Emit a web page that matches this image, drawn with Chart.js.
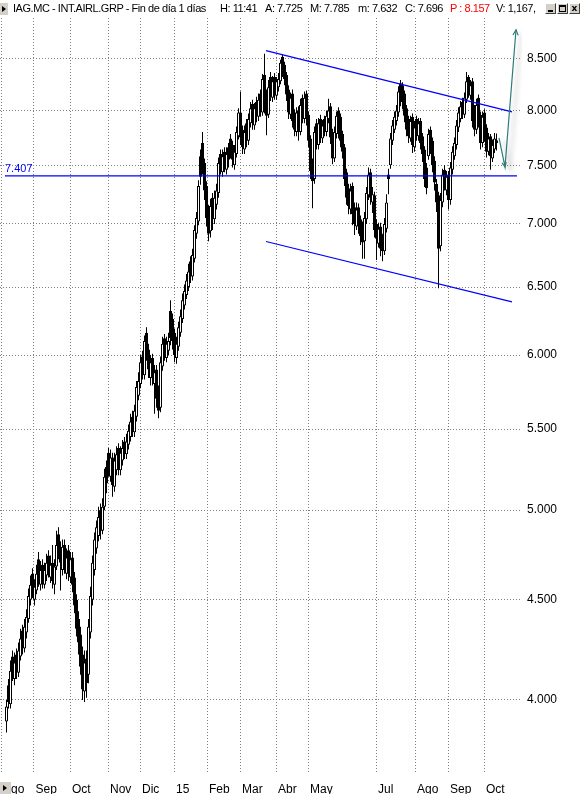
<!DOCTYPE html>
<html>
<head>
<meta charset="utf-8">
<title>IAG.MC - INT.AIRL.GRP</title>
<script src="https://cdn.jsdelivr.net/npm/chart.js@4.4.0/dist/chart.umd.min.js"></script>
<style>
  html, body { margin: 0; padding: 0; background: #fff; }
  #wrap { position: relative; width: 585px; height: 794px; overflow: hidden;
          font-family: "Liberation Sans", Arial, sans-serif; background: #fff; }
  #chart { position: absolute; left: 0; top: 0; }
  .hdr { position: absolute; top: 1px; font-size: 11px; letter-spacing: -0.45px; line-height: 14px;
         white-space: nowrap; color: #000; }
  .red { color: #ff0000; }
  .btn { position: absolute; background: #d4d0c8; box-sizing: border-box; }
  .tri { position: absolute; width: 0; height: 0; border-top: 3px solid transparent;
         border-bottom: 3px solid transparent; border-left: 4px solid #000; }
  .win { position: absolute; top: 3px; width: 11px; height: 11px; box-sizing: border-box;
         background: #d4d0c8; border: 1px solid; border-color: #fff #404040 #404040 #fff; }
</style>
</head>
<body>
<div id="wrap">
  <canvas id="chart" width="585" height="794"></canvas>

  <div class="btn" style="left:0;top:3px;width:8px;height:12px;"><div class="tri" style="left:2px;top:3px;"></div></div>
  <div class="hdr" style="left:13px;">IAG.MC - INT.AIRL.GRP - Fin de día 1 días</div>
  <div class="hdr" style="left:220px;">H: 11:41</div>
  <div class="hdr" id="hA" style="left:265px;"></div>
  <div class="hdr" id="hM" style="left:310px;"></div>
  <div class="hdr" id="hm" style="left:358px;"></div>
  <div class="hdr" id="hC" style="left:405px;"></div>
  <div class="hdr red" style="left:450px;">P : 8.157</div>
  <div class="hdr" style="left:496px;">V: 1,167,</div>

  <div class="win" style="left:545px;"><div style="position:absolute;left:2px;top:6px;width:5px;height:2px;background:#000;"></div></div>
  <div class="win" style="left:557px;"><div style="position:absolute;left:1px;top:1px;width:7px;height:7px;box-sizing:border-box;border:1px solid #000;border-top-width:2px;"></div></div>
  <div class="win" style="left:569px;"><div style="position:absolute;left:0;top:-2px;width:9px;text-align:center;font:bold 9px 'DejaVu Sans',sans-serif;line-height:12px;">x</div></div>

  <div class="btn" style="left:0;top:782px;width:11px;height:12px;"><div class="tri" style="left:3px;top:3px;"></div></div>
</div>

<script>
// Daily candles, IAG.MC (oldest first): open, high, low, close
const open = [
  3.90,4.07,3.98,4.21,4.10,4.22,4.13,4.21,4.34,4.25,4.33,4.40,4.50,4.64,4.50,4.55,4.72,4.58,4.69,4.58,
  4.63,4.74,4.62,4.70,4.58,4.68,4.86,4.78,4.66,4.80,4.64,4.77,4.62,4.73,4.62,4.50,4.40,4.32,4.22,4.04,
  4.20,4.12,4.33,4.50,4.66,4.78,4.85,5.00,4.88,5.02,5.26,5.35,5.20,5.32,5.14,5.24,5.38,5.24,5.30,5.42,
  5.34,5.40,5.45,5.58,5.48,5.58,5.72,5.80,5.99,5.86,6.16,6.04,5.84,5.98,5.80,5.90,5.76,5.64,5.92,6.12,
  5.98,6.03,6.32,6.26,6.16,5.98,6.06,6.16,6.26,6.36,6.44,6.50,6.70,6.58,6.72,6.92,7.02,7.58,7.70,7.52,
  7.32,7.12,6.94,7.22,7.04,7.16,7.26,7.60,7.44,7.62,7.46,7.66,7.74,7.68,7.50,7.60,7.76,7.98,7.82,7.64,
  7.88,7.72,7.88,8.06,7.86,8.08,7.94,8.16,7.98,8.34,8.12,7.96,8.32,8.12,8.32,8.14,8.22,8.28,8.52,8.44,
  8.34,8.20,7.96,8.16,7.98,7.80,8.00,7.80,8.12,7.92,8.16,7.96,7.74,7.52,7.38,7.88,7.68,7.92,7.74,7.92,
  7.80,7.92,8.04,7.80,7.56,7.78,8.00,7.94,7.78,7.66,7.44,7.30,7.12,7.32,7.14,6.98,7.14,7.04,6.98,6.86,
  7.04,7.24,7.44,7.18,7.24,7.00,6.84,6.98,6.88,6.78,6.96,7.42,7.50,7.72,7.82,7.90,7.98,8.26,8.24,8.16,
  8.02,7.92,7.74,7.94,7.66,7.92,7.76,7.90,7.76,7.64,7.48,7.58,7.82,7.72,7.54,7.34,7.24,6.82,7.18,7.46,
  7.28,7.42,7.20,7.46,7.58,7.68,7.84,7.92,8.08,7.96,8.10,8.32,8.14,8.28,8.02,7.82,8.12,7.96,7.70,7.98,
  7.84,7.62,7.76,7.56,7.64,7.725
];
const high = [
  4.00,4.10,4.19,4.24,4.23,4.25,4.28,4.35,4.37,4.40,4.45,4.56,4.63,4.67,4.61,4.69,4.76,4.71,4.72,4.70,
  4.75,4.77,4.74,4.80,4.72,4.88,4.90,4.82,4.83,4.83,4.78,4.80,4.76,4.76,4.65,4.53,4.44,4.36,4.26,4.24,
  4.24,4.40,4.57,4.74,4.87,4.94,5.02,5.04,5.07,5.25,5.30,5.38,5.37,5.35,5.35,5.39,5.41,5.39,5.43,5.45,
  5.47,5.53,5.60,5.62,5.66,5.82,5.88,6.00,6.03,6.14,6.20,6.08,6.00,6.01,5.93,5.93,5.79,5.99,6.13,6.15,
  6.13,6.16,6.40,6.30,6.19,6.13,6.24,6.33,6.45,6.52,6.60,6.68,6.74,6.80,6.99,7.10,7.37,7.64,7.80,7.56,
  7.36,7.16,7.21,7.26,7.28,7.34,7.57,7.64,7.64,7.66,7.66,7.70,7.78,7.72,7.68,7.85,8.02,8.18,7.86,7.86,
  7.92,7.97,8.08,8.10,8.07,8.13,8.16,8.20,8.35,8.55,8.20,8.29,8.37,8.33,8.36,8.32,8.36,8.49,8.54,8.47,
  8.37,8.24,8.17,8.20,8.01,8.03,8.04,8.11,8.15,8.18,8.19,7.99,7.77,7.56,7.85,7.92,7.93,7.96,7.91,7.95,
  8.00,8.11,8.07,7.83,7.85,7.99,8.03,7.97,7.81,7.69,7.47,7.34,7.34,7.35,7.18,7.18,7.17,7.07,7.02,7.10,
  7.31,7.48,7.47,7.31,7.27,7.04,7.01,7.01,6.92,7.05,7.25,7.47,7.79,7.91,7.99,8.05,8.23,8.29,8.27,8.19,
  8.05,7.95,7.95,7.97,7.90,7.95,7.93,7.93,7.79,7.67,7.52,7.83,7.85,7.75,7.58,7.38,7.27,7.26,7.47,7.50,
  7.45,7.45,7.53,7.67,7.75,7.91,8.03,8.09,8.12,8.17,8.37,8.34,8.29,8.31,8.05,8.11,8.15,7.99,7.99,8.01,
  7.87,7.79,7.78,7.73,7.79,7.785
];
const low = [
  3.85,3.96,3.96,4.09,4.07,4.10,4.11,4.19,4.22,4.23,4.30,4.38,4.47,4.51,4.47,4.53,4.57,4.55,4.56,4.56,
  4.60,4.62,4.59,4.56,4.53,4.66,4.72,4.55,4.63,4.64,4.61,4.60,4.59,4.54,4.43,4.31,4.22,4.12,4.00,3.99,
  4.01,4.08,4.30,4.47,4.63,4.75,4.82,4.83,4.86,5.00,5.10,5.20,5.17,5.08,5.11,5.21,5.21,5.21,5.27,5.31,
  5.31,5.37,5.42,5.45,5.45,5.55,5.69,5.77,5.83,5.83,5.96,5.84,5.79,5.79,5.60,5.64,5.57,5.61,5.89,5.96,
  5.95,6.00,6.07,6.04,5.95,5.94,6.03,6.13,6.23,6.33,6.41,6.47,6.53,6.55,6.69,6.88,6.99,7.33,7.42,7.20,
  6.98,6.86,6.89,6.95,7.00,7.12,7.22,7.42,7.40,7.44,7.42,7.48,7.56,7.48,7.46,7.57,7.73,7.68,7.60,7.60,
  7.66,7.68,7.84,7.82,7.82,7.89,7.90,7.94,7.95,7.97,7.77,7.93,8.09,8.08,8.10,8.10,8.18,8.25,8.32,8.24,
  8.09,7.92,7.92,7.84,7.76,7.76,7.72,7.77,7.88,7.88,7.86,7.66,7.38,7.13,7.34,7.64,7.64,7.70,7.70,7.76,
  7.76,7.88,7.69,7.51,7.53,7.74,7.74,7.66,7.56,7.32,7.16,7.08,7.08,6.99,6.91,6.95,6.92,6.83,6.72,6.72,
  7.00,7.20,7.16,7.09,6.89,6.71,6.81,6.74,6.70,6.75,6.93,7.25,7.47,7.68,7.79,7.86,7.94,8.04,8.01,7.89,
  7.76,7.70,7.71,7.61,7.62,7.72,7.72,7.64,7.53,7.31,7.25,7.55,7.60,7.44,7.28,7.10,6.49,6.78,7.14,7.28,
  7.24,7.12,7.16,7.42,7.55,7.64,7.80,7.89,7.92,7.93,8.07,8.12,8.10,7.84,7.76,7.78,7.84,7.64,7.66,7.71,
  7.57,7.59,7.46,7.53,7.61,7.632
];
const close = [
  3.97,3.99,4.14,4.13,4.18,4.14,4.24,4.30,4.26,4.36,4.41,4.52,4.58,4.55,4.57,4.64,4.61,4.66,4.60,4.66,
  4.70,4.66,4.69,4.60,4.68,4.80,4.76,4.70,4.79,4.68,4.73,4.64,4.72,4.58,4.47,4.35,4.28,4.16,4.05,4.18,
  4.08,4.36,4.52,4.70,4.83,4.90,4.96,4.88,5.02,5.20,5.16,5.25,5.32,5.15,5.30,5.34,5.26,5.35,5.38,5.36,
  5.42,5.49,5.55,5.50,5.62,5.78,5.82,5.95,5.88,6.10,6.02,5.90,5.95,5.84,5.88,5.70,5.62,5.95,6.08,6.02,
  6.08,6.10,6.12,6.10,6.00,6.08,6.20,6.28,6.40,6.47,6.55,6.62,6.58,6.75,6.95,7.05,7.32,7.40,7.48,7.28,
  7.05,6.92,7.15,7.05,7.22,7.28,7.52,7.48,7.58,7.50,7.60,7.55,7.62,7.55,7.62,7.80,7.98,7.75,7.66,7.80,
  7.72,7.92,8.02,7.88,8.02,7.95,8.10,8.00,8.30,8.02,7.95,8.22,8.15,8.28,8.18,8.28,8.30,8.46,8.38,8.30,
  8.15,7.98,8.12,7.90,7.82,7.98,7.80,8.05,7.95,8.12,7.92,7.72,7.45,7.36,7.80,7.70,7.88,7.76,7.86,7.82,
  7.95,8.00,7.75,7.56,7.80,7.95,7.80,7.72,7.62,7.38,7.22,7.15,7.28,7.08,7.00,7.12,6.98,6.90,6.85,7.05,
  7.26,7.42,7.22,7.25,6.95,6.88,6.96,6.80,6.78,7.00,7.18,7.38,7.74,7.86,7.94,8.00,8.18,8.10,8.08,7.95,
  7.82,7.76,7.90,7.68,7.84,7.78,7.88,7.70,7.60,7.38,7.30,7.78,7.66,7.50,7.35,7.18,6.80,7.20,7.42,7.34,
  7.40,7.20,7.48,7.62,7.70,7.86,7.98,8.04,7.98,8.12,8.28,8.18,8.24,7.90,7.82,8.05,7.90,7.70,7.94,7.78,
  7.62,7.74,7.58,7.68,7.74,7.696
];

// Month separators (position on the candle index axis) and their labels
const monthPos    = [-2.75, 13.55, 31.75, 50.75, 66.75, 83.75, 100.25, 116.75, 134.75, 150.75, 184.75, 204.25, 220.75, 238.75];
const monthLabels = ['Ago', 'Sep', 'Oct', 'Nov', 'Dic', '15', 'Feb', 'Mar', 'Abr', 'May', 'Jul', 'Ago', 'Sep', 'Oct'];

// Price axis tick values
const priceTicks = [4.0, 4.5, 5.0, 5.5, 6.0, 6.5, 7.0, 7.5, 8.0, 8.5];

// Drawn studies: support level, descending channel, projected move
const supportLevel = 7.407;
const supportSpan  = [-0.75, 255.25];
const channelUpper = [{ x: 129.75, y: 8.583 }, { x: 252.75, y: 7.986 }];
const channelLower = [{ x: 129.75, y: 6.857 }, { x: 252.75, y: 6.388 }];
const projection   = [{ x: 246.25, y: 7.746 }, { x: 249.25, y: 7.486 }, { x: 254.75, y: 8.795 }];

// Header quote fields from the last session
const last = close.length - 1;
document.getElementById('hA').textContent = 'A: ' + open[last].toFixed(3);
document.getElementById('hM').textContent = 'M: ' + high[last].toFixed(3);
document.getElementById('hm').textContent = 'm: ' + low[last].toFixed(3);
document.getElementById('hC').textContent = 'C: ' + close[last].toFixed(3);

const idx = close.map((_, i) => i);
const wickData = idx.map(i => ({ x: i, y: [low[i], high[i]] }));
const bodyData = idx.map(i => ({ x: i, y: [open[i], close[i]] }));
const bodyFill = idx.map(i => (close[i] >= open[i] ? '#ffffff' : '#000000'));

const PROJ_LABEL = 'proyeccion';

// Soft drop shadow and arrow heads for the projected move
const projectionDecor = {
  id: 'projectionDecor',
  beforeDatasetDraw(chart, args) {
    if (chart.data.datasets[args.index].label !== PROJ_LABEL) return;
    const ctx = chart.ctx;
    ctx.save();
    ctx.shadowColor = 'rgba(0,0,0,0.3)';
    ctx.shadowBlur = 5;
    ctx.shadowOffsetX = 5;
    ctx.shadowOffsetY = 3;
  },
  afterDatasetDraw(chart, args) {
    if (chart.data.datasets[args.index].label !== PROJ_LABEL) return;
    const ctx = chart.ctx;
    ctx.restore();
    const pts = args.meta.data;
    const head = (a, b, len) => {
      const ang = Math.atan2(b.y - a.y, b.x - a.x);
      ctx.beginPath();
      ctx.moveTo(b.x - len * Math.cos(ang - 0.45), b.y - len * Math.sin(ang - 0.45));
      ctx.lineTo(b.x, b.y);
      ctx.lineTo(b.x - len * Math.cos(ang + 0.45), b.y - len * Math.sin(ang + 0.45));
      ctx.stroke();
    };
    ctx.save();
    ctx.strokeStyle = '#2e7b7b';
    ctx.lineWidth = 1.2;
    head(pts[0], pts[1], 5);
    head(pts[1], pts[2], 6);
    ctx.restore();
  }
};

// Value tag above the support line
const supportTag = {
  id: 'supportTag',
  afterDatasetsDraw(chart) {
    const y = chart.scales.y.getPixelForValue(supportLevel);
    const ctx = chart.ctx;
    ctx.save();
    ctx.fillStyle = '#0000ff';
    ctx.font = '11px "Liberation Sans", Arial, sans-serif';
    ctx.textAlign = 'left';
    ctx.textBaseline = 'alphabetic';
    ctx.fillText(supportLevel.toFixed(3), 5, y - 4);
    ctx.restore();
  }
};

Chart.defaults.font.family = '"Liberation Sans", Arial, sans-serif';
Chart.defaults.font.size = 12;
Chart.defaults.color = '#000';

new Chart(document.getElementById('chart'), {
  type: 'bar',
  data: {
    datasets: [
      {
        label: 'mechas', type: 'bar', data: wickData, backgroundColor: '#000000',
        borderWidth: 0, barThickness: 1, grouped: false, inflateAmount: 0, order: 4
      },
      {
        label: 'cuerpos', type: 'bar', data: bodyData, backgroundColor: bodyFill,
        borderColor: '#000000', borderWidth: 1, borderSkipped: false,
        barThickness: 3, grouped: false, inflateAmount: 0, order: 3
      },
      {
        label: 'soporte', type: 'line',
        data: supportSpan.map(x => ({ x, y: supportLevel })),
        borderColor: '#0000ff', borderWidth: 1.2, pointRadius: 0, order: 2
      },
      {
        label: 'canal superior', type: 'line', data: channelUpper,
        borderColor: '#0000ff', borderWidth: 1.2, pointRadius: 0, order: 2
      },
      {
        label: 'canal inferior', type: 'line', data: channelLower,
        borderColor: '#0000ff', borderWidth: 1.2, pointRadius: 0, order: 2
      },
      {
        label: PROJ_LABEL, type: 'line', data: projection,
        borderColor: '#2e7b7b', borderWidth: 1.2, pointRadius: 0, tension: 0, order: 1
      }
    ]
  },
  options: {
    responsive: false,
    animation: false,
    devicePixelRatio: 1,
    events: [],
    layout: { padding: { top: 18, left: 0, right: 0, bottom: 0 } },
    plugins: { legend: { display: false }, tooltip: { enabled: false } },
    scales: {
      x: {
        type: 'linear', min: -3.25, max: 257.75, offset: false,
        afterBuildTicks: s => { s.ticks = monthPos.map(v => ({ value: v })); },
        afterFit: s => { s.height = 21; },
        ticks: {
          autoSkip: false, maxRotation: 0, minRotation: 0, align: 'start',
          labelOffset: 2, padding: 0, color: '#000', font: { size: 12 },
          callback: (v, i) => monthLabels[i]
        },
        grid: { color: '#808080', lineWidth: 1, drawTicks: true, tickLength: 9,
                tickColor: 'rgba(0,0,0,0)', offset: false },
        border: { display: false, dash: [1, 2] }
      },
      y: {
        type: 'logarithmic', position: 'right', min: 3.671, max: 8.918,
        afterBuildTicks: s => { s.ticks = priceTicks.map(v => ({ value: v })); },
        afterFit: s => { s.width = 63; },
        ticks: {
          autoSkip: false, padding: 5, color: '#000', font: { size: 12 },
          callback: v => Number(v).toFixed(3)
        },
        grid: { color: '#808080', lineWidth: 1, drawTicks: false },
        border: { display: false, dash: [1, 2] }
      }
    }
  },
  plugins: [projectionDecor, supportTag]
});
</script>
</body>
</html>
